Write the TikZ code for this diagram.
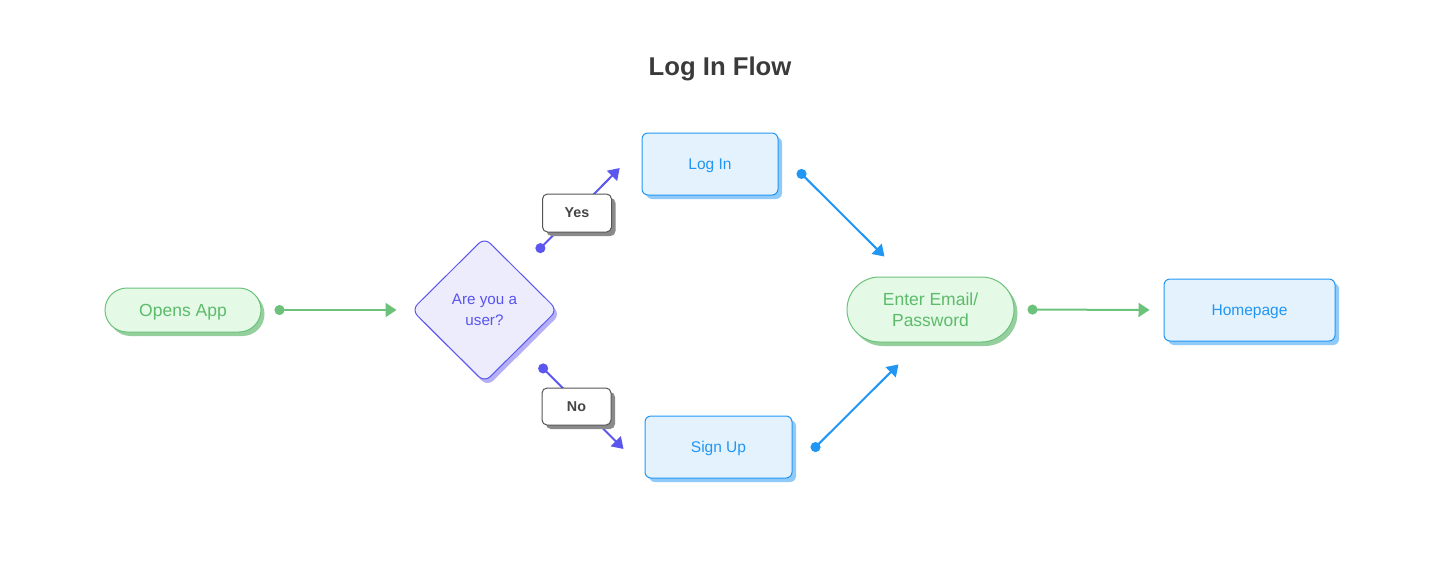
\documentclass[tikz,border=0pt]{standalone}
\usepackage{fontspec}
\setmainfont{Liberation Sans}
\usetikzlibrary{arrows.meta,shapes.geometric,shapes.misc,shadows}
\definecolor{titlec}{HTML}{3A3A3A}
\definecolor{gtext}{HTML}{5DBB6B}
\definecolor{gline}{HTML}{6CC27A}
\definecolor{gfill}{HTML}{E4F9E6}
\definecolor{gshad}{HTML}{95CF9E}
\definecolor{ptext}{HTML}{5753F0}
\definecolor{pline}{HTML}{5B57EE}
\definecolor{pfill}{HTML}{EDECFC}
\definecolor{pshad}{HTML}{B4AFF6}
\definecolor{btext}{HTML}{2196F3}
\definecolor{bline}{HTML}{2196F3}
\definecolor{bfill}{HTML}{E4F2FD}
\definecolor{bshad}{HTML}{90CAF9}
\definecolor{ltext}{HTML}{454545}
\definecolor{lline}{HTML}{555555}
\definecolor{lshad}{HTML}{8A8A8A}
\tikzset{
  pill/.style={rounded rectangle, draw=gline, fill=gfill, line width=1pt, text=gtext, inner sep=0pt,
    font=\fontsize{17.5}{21}\selectfont, align=center, text depth=0pt,
    drop shadow={shadow xshift=3.5pt, shadow yshift=-4pt, fill=gshad, opacity=1}},
  bbox/.style={rectangle, rounded corners=6pt, draw=bline, fill=bfill, line width=1pt, text=btext, inner sep=0pt,
    font=\fontsize{15.5}{19}\selectfont, minimum height=62pt, text depth=0pt,
    drop shadow={shadow xshift=4pt, shadow yshift=-4pt, fill=bshad, opacity=1}},
  qbox/.style={diamond, rounded corners=8pt, draw=pline, fill=pfill, line width=1pt, text=ptext, inner sep=0pt,
    aspect=1, minimum width=146pt, minimum height=145pt, align=center, text depth=0pt,
    font=\fontsize{15.2}{21}\selectfont,
    drop shadow={shadow xshift=3pt, shadow yshift=-4pt, fill=pshad, opacity=1}},
  lbl/.style={rectangle, rounded corners=5pt, draw=lline, fill=white, line width=1pt, text=ltext, inner sep=0pt,
    minimum width=69pt, minimum height=38pt, font=\fontsize{14.3}{17}\selectfont\bfseries, text depth=0pt,
    drop shadow={shadow xshift=4pt, shadow yshift=-4pt, fill=lshad, opacity=1}},
  conn/.style={line width=2pt, {Circle[length=10pt]}-{Triangle[length=11pt,width=14pt]}},
  gconn/.style={conn, draw=gline, fill=gline},
  pconn/.style={conn, draw=pline, fill=pline},
  bconn/.style={conn, draw=bline, fill=bline},
}
\begin{document}
\begin{tikzpicture}[x=1pt,y=-1pt]
\useasboundingbox (0,0) rectangle (1440,568);
\node[font=\fontsize{25.7}{30}\selectfont\bfseries, text=titlec, text depth=0pt] (title) at (720,66) {Log In Flow};

\node[pill, minimum width=156pt, minimum height=44pt] (open) at (183,310) {Opens App};
\node[qbox] (q) at (484.5,310) {Are you a\\user?};
\node[bbox, minimum width=136pt] (login) at (710,164) {Log In};
\node[bbox, minimum width=147pt] (signup) at (718.5,447) {Sign Up};
\node[pill, minimum width=167pt, minimum height=65pt] (enter) at (930.5,309.5) {Enter Email/\\Password};
\node[bbox, minimum width=171pt] (home) at (1249.5,310) {Homepage};

\draw[gconn, shorten <=13pt, shorten >=14.5pt] (open.east) -- (q.west);
\draw[pconn, shorten <=26.5pt, shorten >=31pt] ([shift={(-3pt,3pt)}]q.north east) -- ([yshift=18pt]login.west);
\draw[pconn, shorten <=26pt, shorten >=29.7pt] (q.south east) -- ([yshift=-23pt]signup.west);
\draw[bconn, shorten <=27.5pt, shorten >=28.3pt] ([yshift=13pt]login.east) -- ([xshift=-26pt]enter.north);
\draw[bconn, shorten <=27.5pt, shorten >=31.1pt] ([yshift=-23pt]signup.east) -- ([xshift=-10pt]enter.south);
\draw[gconn, shorten <=13pt, shorten >=14pt] (enter.east) -- (home.west);

\node[lbl] (yes) at (577,213) {Yes};
\node[lbl, minimum height=37pt] (no) at (576.5,406.5) {No};
\end{tikzpicture}
\end{document}
